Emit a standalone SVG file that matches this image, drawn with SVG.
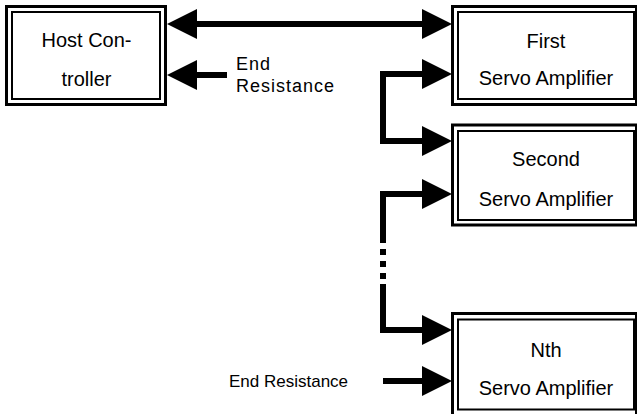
<svg xmlns="http://www.w3.org/2000/svg" width="637" height="414" viewBox="0 0 637 414">
<style>
.outer{fill:#fff;stroke:#000;stroke-width:3}
.inner{fill:none;stroke:#000;stroke-width:2}
.t{font-family:"Liberation Sans",Arial,sans-serif;font-size:20px;fill:#000;text-anchor:middle}
.lbl{font-family:"Liberation Sans",Arial,sans-serif;font-size:18px;fill:#000;letter-spacing:1px}
.lbl2{font-family:"Liberation Sans",Arial,sans-serif;font-size:17px;fill:#000}
.w{fill:none;stroke:#000;stroke-width:6;stroke-linejoin:miter}
</style>
<defs>
<marker id="ah" markerUnits="userSpaceOnUse" markerWidth="31" markerHeight="31" refX="0" refY="15" orient="auto-start-reverse" viewBox="0 0 31 30">
<path d="M0,0 L30,15 L0,30 Z" fill="#000"/>
</marker>
</defs>
<rect width="637" height="414" fill="#fff"/>
<g id="host">
<rect class="outer" x="6.5" y="6.5" width="159" height="98"/>
<rect class="inner" x="12" y="12" width="148" height="87"/>
<text class="t" x="86.5" y="47">Host Con-</text>
<text class="t" x="86.5" y="86">troller</text>
</g>
<g id="first">
<rect class="outer" x="452.5" y="6.5" width="184" height="98"/>
<rect class="inner" x="458" y="12" width="176" height="87"/>
<text class="t" x="546" y="48">First</text>
<text class="t" x="546" y="85">Servo Amplifier</text>
</g>
<g id="second">
<rect class="outer" x="452.5" y="125" width="184" height="100"/>
<rect class="inner" x="458" y="131" width="176" height="89"/>
<text class="t" x="546" y="166">Second</text>
<text class="t" x="546" y="206">Servo Amplifier</text>
</g>
<g id="nth">
<rect class="outer" x="452.5" y="313.5" width="184" height="110"/>
<rect class="inner" x="458" y="319.5" width="176" height="90"/>
<text class="t" x="546" y="357">Nth</text>
<text class="t" x="546" y="395">Servo Amplifier</text>
</g>
<g id="labels">
<text class="lbl" x="236" y="70">End</text>
<text class="lbl" x="236" y="92">Resistance</text>
<text class="lbl2" x="229" y="387">End Resistance</text>
</g>
<g id="connectors">
<path class="w" d="M197,24 H422" marker-start="url(#ah)" marker-end="url(#ah)"/>
<path class="w" d="M227,75 H197" marker-end="url(#ah)"/>
<path class="w" d="M422,74 H383 V141 H422" marker-start="url(#ah)" marker-end="url(#ah)"/>
<path class="w" d="M422,194 H383 V237" marker-start="url(#ah)"/>
<path class="w" d="M383,237 V279" stroke-dasharray="6 6"/>
<path class="w" d="M383,284 V330 H422" marker-end="url(#ah)"/>
<path class="w" d="M383,381 H422" marker-end="url(#ah)"/>
</g>
</svg>
